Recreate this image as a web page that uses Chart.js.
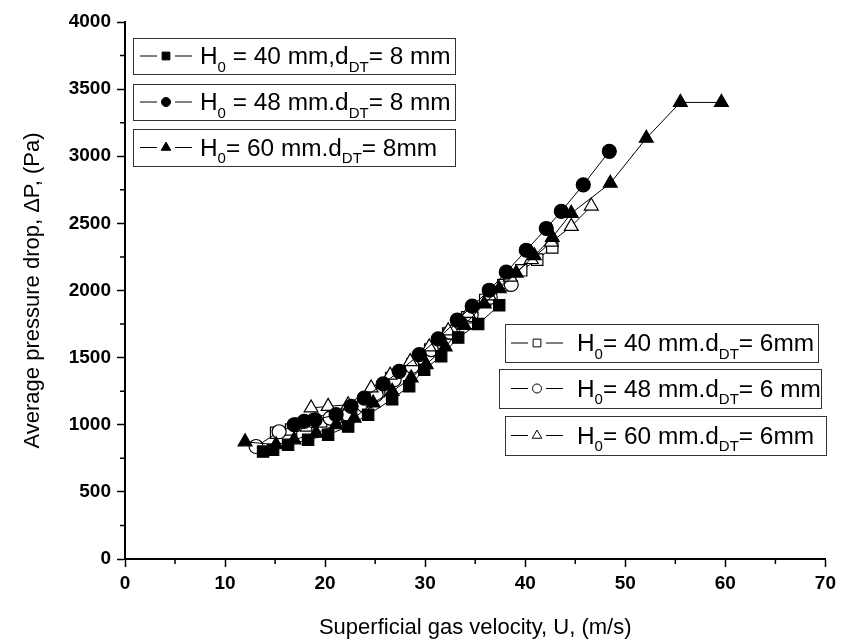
<!DOCTYPE html>
<html>
<head>
<meta charset="utf-8">
<script src="https://cdn.jsdelivr.net/npm/chart.js@4.4.1/dist/chart.umd.min.js"></script>
<style>
  html, body { margin: 0; padding: 0; background: #fff; }
</style>
</head>
<body>
<canvas id="myChart" width="841" height="644"></canvas>
<script>
// H0 = 40 mm, dDT = 8 mm (filled squares)
const u40d8 = [13.8, 14.8, 16.3, 18.3, 20.3, 22.3, 24.3, 26.7, 28.4, 29.9, 31.6, 33.3, 35.3, 37.4];
const dp40d8 = [800, 813, 851, 888, 925, 987, 1075, 1190, 1286, 1410, 1510, 1650, 1750, 1890];
// H0 = 48 mm, dDT = 8 mm (filled circles)
const u48d8 = [16.9, 17.9, 19.0, 21.1, 22.6, 23.9, 25.8, 27.4, 29.4, 31.3, 33.2, 34.7, 36.4, 38.1, 40.1, 42.1, 43.6, 45.8, 48.4];
const dp48d8 = [1000, 1025, 1037, 1075, 1137, 1199, 1304, 1398, 1522, 1640, 1780, 1883, 2002, 2137, 2300, 2462, 2590, 2787, 3037];
// H0 = 60 mm, dDT = 8 mm (filled triangles)
const u60d8 = [12.0, 15.1, 16.9, 19.1, 21.1, 22.9, 24.8, 26.7, 28.6, 30.1, 32.0, 33.9, 35.9, 37.4, 39.1, 40.9, 42.7, 44.6, 48.5, 52.1, 55.5, 59.6];
const dp60d8 = [873, 851, 888, 938, 1000, 1050, 1162, 1249, 1349, 1448, 1580, 1740, 1900, 2013, 2130, 2260, 2396, 2575, 2799, 3134, 3401, 3401];
// H0 = 40 mm, dDT = 6 mm (open squares)
const u40d6 = [15.1, 16.6, 18.1, 19.6, 21.1, 22.6, 24.1, 25.4, 26.6, 28.7, 30.5, 32.3, 34.2, 36.0, 37.8, 39.6, 41.2, 42.7];
const dp40d6 = [940, 965, 995, 1025, 1060, 1110, 1170, 1250, 1349, 1448, 1560, 1680, 1800, 1930, 2040, 2150, 2230, 2321];
// H0 = 48 mm, dDT = 6 mm (open circles)
const u48d6 = [13.1, 15.4, 17.1, 18.8, 20.5, 22.3, 23.8, 25.1, 26.9, 28.7, 30.6, 32.5, 34.6, 36.5, 38.6];
const dp48d6 = [838, 948, 1000, 1030, 1050, 1075, 1150, 1224, 1336, 1435, 1560, 1690, 1820, 1950, 2045];
// H0 = 60 mm, dDT = 6 mm (open triangles)
const u60d6 = [18.6, 20.3, 22.3, 24.6, 26.5, 28.5, 30.4, 32.3, 34.3, 36.4, 38.5, 40.6, 42.6, 44.6, 46.6];
const dp60d6 = [1125, 1137, 1149, 1274, 1370, 1470, 1580, 1700, 1830, 1960, 2100, 2231, 2360, 2478, 2629];

const labels8 = ['H_{0} = 40 mm,d_{DT}= 8 mm', 'H_{0} = 48 mm.d_{DT}= 8 mm', 'H_{0}= 60 mm.d_{DT}= 8mm'];
const labels6 = ['H_{0}= 40 mm.d_{DT}= 6mm', 'H_{0}= 48 mm.d_{DT}= 6 mm', 'H_{0}= 60 mm.d_{DT}= 6mm'];

const xTitle = 'Superficial gas velocity, U, (m/s)';
const yTitle = 'Average pressure drop, \u0394P, (Pa)';

const FONT = "'Liberation Sans', Arial, sans-serif";

function pts(xs, ys) {
  return xs.map((x, i) => ({x: x, y: ys[i]}));
}

function series(label, xs, ys, style, filled, radius, order) {
  return {
    label: label,
    data: pts(xs, ys),
    showLine: true,
    borderColor: '#000',
    borderWidth: 1,
    pointStyle: style,
    pointRadius: radius,
    pointBackgroundColor: filled ? '#000' : '#fff',
    pointBorderColor: '#000',
    pointBorderWidth: 1.2,
    order: order
  };
}

const datasets = [
  series(labels8[1], u48d8, dp48d8, 'circle', true, 7, 1),
  series(labels8[0], u40d8, dp40d8, 'rect', true, 8, 2),
  series(labels8[2], u60d8, dp60d8, 'triangle', true, 8, 3),
  series(labels6[2], u60d6, dp60d6, 'triangle', false, 8, 4),
  series(labels6[1], u48d6, dp48d6, 'circle', false, 7, 5),
  series(labels6[0], u40d6, dp40d6, 'rect', false, 8, 6)
];

// small ticks between the labelled ones
const minorTicks = {
  id: 'minorTicks',
  afterDraw(chart) {
    const {ctx, scales: {x, y}} = chart;
    ctx.save();
    ctx.strokeStyle = '#000';
    ctx.lineWidth = 1.5;
    ctx.beginPath();
    for (let v = 5; v < 70; v += 10) {
      const px = x.getPixelForValue(v);
      ctx.moveTo(px, x.top);
      ctx.lineTo(px, x.top + 5);
    }
    for (let v = 250; v < 4000; v += 500) {
      const py = y.getPixelForValue(v);
      ctx.moveTo(y.right, py);
      ctx.lineTo(y.right - 5, py);
    }
    ctx.stroke();
    ctx.restore();
  }
};

function drawRich(ctx, text, x, y, size) {
  const parts = text.split(/(_\{[^}]*\})/);
  parts.forEach(p => {
    if (!p) return;
    if (p.startsWith('_{')) {
      const s = p.slice(2, -1);
      ctx.font = Math.round(size * 0.62) + 'px ' + FONT;
      ctx.fillText(s, x, y + size * 0.32);
      x += ctx.measureText(s).width;
    } else {
      ctx.font = size + 'px ' + FONT;
      ctx.fillText(p, x, y);
      x += ctx.measureText(p).width;
    }
  });
}

// boxed legend entries, drawn as in the original figure
const boxedLegend = {
  id: 'boxedLegend',
  afterDraw(chart, args, opts) {
    const ctx = chart.ctx;
    ctx.save();
    opts.boxes.forEach(b => {
      const ds = chart.data.datasets.find(d => d.label === b.label);
      const [l, t, r, btm] = b.rect;
      ctx.fillStyle = '#fff';
      ctx.fillRect(l, t, r - l, btm - t);
      ctx.strokeStyle = '#333';
      ctx.lineWidth = 1;
      ctx.strokeRect(l + 0.5, t + 0.5, r - l, btm - t);
      const cy = (t + btm) / 2;
      const cx = l + b.sym;
      ctx.strokeStyle = '#000';
      ctx.beginPath();
      ctx.moveTo(cx - 26, cy); ctx.lineTo(cx - 9, cy);
      ctx.moveTo(cx + 9, cy); ctx.lineTo(cx + 26, cy);
      ctx.stroke();
      ctx.fillStyle = ds.pointBackgroundColor;
      ctx.strokeStyle = '#000';
      ctx.lineWidth = 1;
      Chart.helpers.drawPoint(ctx, {
        pointStyle: ds.pointStyle,
        radius: ds.pointStyle === 'circle' ? 4.5 : 5.5,
        rotation: 0,
        borderWidth: 1
      }, cx, cy);
      ctx.fillStyle = '#000';
      ctx.textBaseline = 'alphabetic';
      drawRich(ctx, b.label, l + b.text, cy + 8, 24.4);
    });
    ctx.restore();
  }
};

const tickFont = {family: FONT, size: 19, weight: 'bold'};
const titleFont = {family: FONT, size: 22};

new Chart('myChart', {
  type: 'scatter',
  data: {datasets: datasets},
  options: {
    responsive: false,
    animation: false,
    layout: {padding: {left: 0, top: 22, right: 15, bottom: 0}},
    plugins: {
      legend: {display: false},
      tooltip: {enabled: false},
      boxedLegend: {
        boxes: [
          {label: labels8[0], rect: [133, 38, 455, 74], sym: 33, text: 67},
          {label: labels8[1], rect: [133, 84, 455, 120], sym: 33, text: 67},
          {label: labels8[2], rect: [133, 129, 455, 166], sym: 33, text: 67},
          {label: labels6[0], rect: [505, 324, 818, 362], sym: 32, text: 72},
          {label: labels6[1], rect: [499, 369, 821, 408], sym: 38, text: 78},
          {label: labels6[2], rect: [505, 416, 826, 455], sym: 32, text: 72}
        ]
      }
    },
    scales: {
      x: {
        type: 'linear',
        min: 0, max: 70,
        ticks: {stepSize: 10, color: '#000', padding: 5, font: tickFont, callback: v => String(v)},
        grid: {drawOnChartArea: false, color: '#000', tickLength: 8, tickWidth: 1.5},
        border: {color: '#000', width: 2},
        title: {display: true, text: xTitle, color: '#000', padding: {top: 0, bottom: 3}, font: titleFont},
        afterFit(s) { s.height = 85; }
      },
      y: {
        type: 'linear',
        min: 0, max: 4000,
        ticks: {stepSize: 500, color: '#000', padding: 6, font: tickFont, callback: v => String(v)},
        grid: {drawOnChartArea: false, color: '#000', tickLength: 8, tickWidth: 1.5},
        border: {color: '#000', width: 2},
        title: {display: true, text: yTitle, color: '#000', padding: {top: 20, bottom: 0}, font: titleFont},
        afterFit(s) { s.width = 125; }
      }
    }
  },
  plugins: [minorTicks, boxedLegend]
});
</script>
</body>
</html>
